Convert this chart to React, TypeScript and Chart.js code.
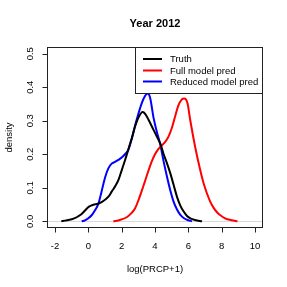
import React, { useEffect, useRef } from "react";
import { Chart, registerables } from "chart.js";

Chart.register(...registerables);

const titleText = "Year 2012";
const xAxisTitle = "log(PRCP+1)";
const yAxisTitle = "density";
const xTicks = [-2, 0, 2, 4, 6, 8, 10];
const xTickLabels = ["-2", "0", "2", "4", "6", "8", "10"];
const yTicks = [0, 0.1, 0.2, 0.3, 0.4, 0.5];
const yTickLabels = ["0.0", "0.1", "0.2", "0.3", "0.4", "0.5"];
const seriesNames = ["Truth", "Full model pred", "Reduced model pred"];
const seriesColors = ["#000000", "#ff0000", "#0000ff"];

const truthX = [-1.62, -1.4, -1.2, -1.0, -0.78, -0.6, -0.4, -0.2, 0.02, 0.22, 0.42, 0.62, 0.82, 1.02, 1.22, 1.42, 1.62, 1.82, 2.02, 2.22, 2.42, 2.62, 2.82, 3.02, 3.26, 3.42, 3.62, 3.92, 4.12, 4.32, 4.52, 4.72, 4.92, 5.12, 5.32, 5.52, 5.72, 5.92, 6.12, 6.4, 6.82];
const truthY = [0, 0.002, 0.004, 0.006, 0.01, 0.015, 0.022, 0.032, 0.043, 0.048, 0.051, 0.053, 0.058, 0.065, 0.074, 0.09, 0.105, 0.125, 0.155, 0.185, 0.218, 0.25, 0.285, 0.311, 0.326, 0.32, 0.302, 0.272, 0.252, 0.232, 0.2, 0.173, 0.143, 0.108, 0.073, 0.047, 0.029, 0.016, 0.009, 0.004, 0];

const fullX = [1.5, 1.9, 2.3, 2.6, 2.8, 3.0, 3.2, 3.4, 3.6, 3.8, 4.0, 4.2, 4.4, 4.6, 4.8, 5.0, 5.2, 5.4, 5.6, 5.75, 5.95, 6.12, 6.3, 6.5, 6.62, 6.8, 6.92, 7.12, 7.32, 7.52, 7.72, 7.92, 8.2, 8.6, 8.95];
const fullY = [0, 0.004, 0.012, 0.025, 0.038, 0.062, 0.09, 0.12, 0.15, 0.178, 0.2, 0.215, 0.226, 0.236, 0.252, 0.277, 0.312, 0.345, 0.363, 0.366, 0.352, 0.3, 0.25, 0.2, 0.173, 0.135, 0.113, 0.083, 0.058, 0.04, 0.027, 0.018, 0.009, 0.003, 0];

const reducedX = [-0.4, -0.2, 0.0, 0.2, 0.4, 0.6, 0.8, 1.0, 1.2, 1.4, 1.6, 1.8, 2.0, 2.2, 2.4, 2.6, 2.8, 3.0, 3.2, 3.4, 3.56, 3.7, 3.92, 4.12, 4.32, 4.52, 4.72, 4.92, 5.12, 5.32, 5.52, 5.72, 5.95, 6.22];
const reducedY = [0, 0.003, 0.009, 0.018, 0.033, 0.052, 0.09, 0.13, 0.158, 0.172, 0.177, 0.183, 0.19, 0.2, 0.213, 0.245, 0.285, 0.32, 0.352, 0.374, 0.381, 0.37, 0.307, 0.265, 0.228, 0.178, 0.133, 0.092, 0.058, 0.035, 0.019, 0.01, 0.004, 0];

const FONT = "'Liberation Sans', Arial, Helvetica, sans-serif";

function toPoints(xs: number[], ys: number[]) {
  return xs.map((x, i) => ({ x, y: ys[i] }));
}

const decorPlugin = {
  id: "rdecor",
  beforeDatasetsDraw(chart: any) {
    const { ctx, chartArea } = chart;
    const ys = chart.scales.y;
    const y0 = Math.round(ys.getPixelForValue(0)) + 0.5;
    ctx.save();
    ctx.strokeStyle = "#d9d9d9";
    ctx.lineWidth = 1;
    ctx.beginPath();
    ctx.moveTo(chartArea.left, y0);
    ctx.lineTo(chartArea.right, y0);
    ctx.stroke();
    ctx.restore();
  },
  afterDraw(chart: any) {
    const { ctx, chartArea } = chart;
    const xs = chart.scales.x;
    const ys = chart.scales.y;
    const L = Math.round(chartArea.left) + 0.5;
    const R = Math.round(chartArea.right) - 0.5;
    const T = Math.round(chartArea.top) + 0.5;
    const B = Math.round(chartArea.bottom) - 0.5;
    ctx.save();
    ctx.strokeStyle = "#222";
    ctx.lineWidth = 1;
    ctx.strokeRect(L, T, R - L, B - T);

    ctx.fillStyle = "#000";
    ctx.font = `9.5px ${FONT}`;
    ctx.textAlign = "center";
    ctx.textBaseline = "middle";
    // x ticks
    ctx.beginPath();
    xTicks.forEach((v) => {
      const px = Math.round(xs.getPixelForValue(v)) + 0.5;
      ctx.moveTo(px, B);
      ctx.lineTo(px, B + 5);
    });
    ctx.stroke();
    xTicks.forEach((v, i) => {
      const px = xs.getPixelForValue(v);
      ctx.fillText(xTickLabels[i], px, 246);
    });
    // y ticks
    ctx.beginPath();
    yTicks.forEach((v) => {
      const py = Math.round(ys.getPixelForValue(v)) + 0.5;
      ctx.moveTo(L, py);
      ctx.lineTo(L - 5, py);
    });
    ctx.stroke();
    yTicks.forEach((v, i) => {
      const py = ys.getPixelForValue(v);
      ctx.save();
      ctx.translate(30.5, py);
      ctx.rotate(-Math.PI / 2);
      ctx.fillText(yTickLabels[i], 0, 0);
      ctx.restore();
    });
    // axis titles
    const cx = (chartArea.left + chartArea.right) / 2;
    const cy = (chartArea.top + chartArea.bottom) / 2;
    ctx.fillText(xAxisTitle, cx, 269.5);
    ctx.save();
    ctx.translate(9.5, cy);
    ctx.rotate(-Math.PI / 2);
    ctx.fillText(yAxisTitle, 0, 0);
    ctx.restore();
    // title
    ctx.font = `bold 11px ${FONT}`;
    ctx.fillText(titleText, cx, 24);

    // legend
    const lgLeft = 135.5;
    const lgBottom = 93.5;
    ctx.fillStyle = "#fff";
    ctx.fillRect(lgLeft, T, R - lgLeft, lgBottom - T);
    ctx.strokeStyle = "#222";
    ctx.lineWidth = 1;
    ctx.strokeRect(lgLeft, T, R - lgLeft, lgBottom - T);
    ctx.font = `9.5px ${FONT}`;
    ctx.textAlign = "left";
    const rows = [59, 70.5, 81.5];
    seriesNames.forEach((name, i) => {
      ctx.strokeStyle = seriesColors[i];
      ctx.lineWidth = 2;
      ctx.beginPath();
      ctx.moveTo(143, rows[i]);
      ctx.lineTo(162, rows[i]);
      ctx.stroke();
      ctx.fillStyle = "#000";
      ctx.fillText(name, 170, rows[i] + 0.5);
    });
    ctx.restore();
  },
};

export default function App() {
  const ref = useRef<HTMLCanvasElement | null>(null);
  useEffect(() => {
    if (!ref.current) return;
    const series = [
      toPoints(truthX, truthY),
      toPoints(fullX, fullY),
      toPoints(reducedX, reducedY),
    ];
    const chart = new Chart(ref.current, {
      type: "line",
      data: {
        datasets: series.map((d, i) => ({
          label: seriesNames[i],
          data: d,
          borderColor: seriesColors[i],
          backgroundColor: seriesColors[i],
          borderWidth: 2,
          pointRadius: 0,
          fill: false,
          cubicInterpolationMode: "monotone" as const,
        })),
      },
      options: {
        responsive: false,
        animation: false,
        devicePixelRatio: 1,
        layout: { padding: { left: 47, top: 47, right: 24, bottom: 59 } },
        plugins: {
          legend: { display: false },
          title: { display: false },
          tooltip: { enabled: false },
        },
        scales: {
          x: { type: "linear", min: -2.48, max: 10.48, display: false },
          y: { type: "linear", min: -0.02, max: 0.52, display: false },
        },
      },
      plugins: [decorPlugin],
    });
    return () => chart.destroy();
  }, []);
  return (
    <div style={{ position: "absolute", left: 0, top: 0, width: 287, height: 287, background: "#fff" }}>
      <canvas ref={ref} width={287} height={287} style={{ width: 287, height: 287, display: "block" }} />
    </div>
  );
}
